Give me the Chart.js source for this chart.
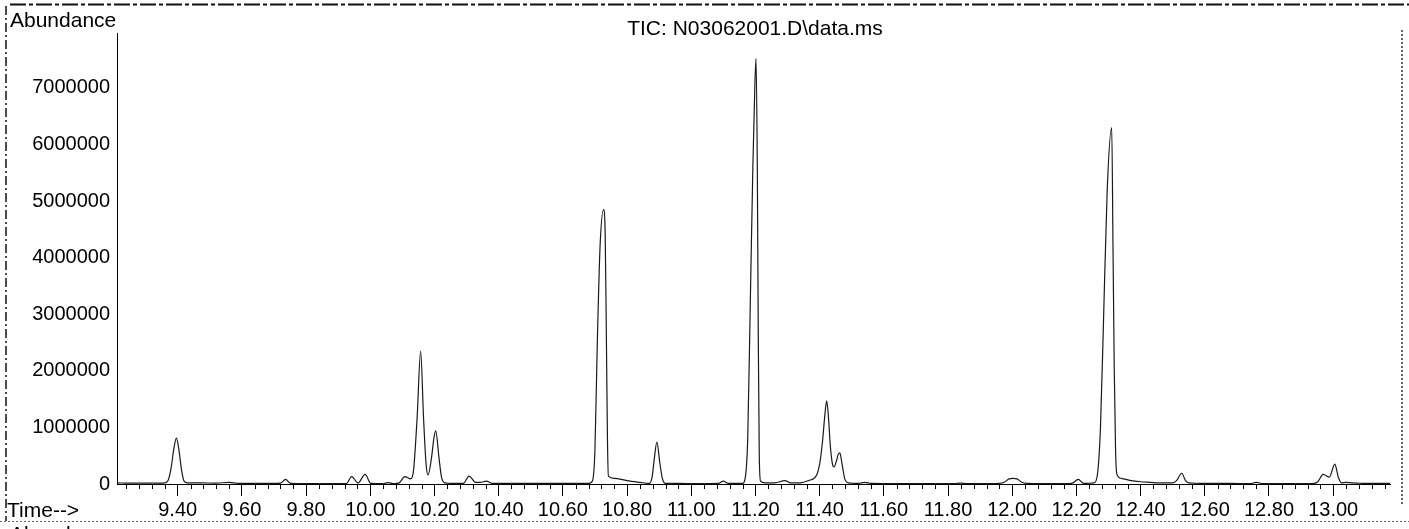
<!DOCTYPE html>
<html>
<head>
<meta charset="utf-8">
<script src="https://cdn.jsdelivr.net/npm/chart.js@4/dist/chart.umd.min.js"></script>
<style>
html,body{margin:0;padding:0;background:#fff;}
#wrap{position:relative;width:1409px;height:529px;}
</style>
</head>
<body>
<div id="wrap"><canvas id="c"></canvas></div>
<script>
// ---- data (retention time in min, abundance) ----
const times = [
  9.211, 9.25, 9.30, 9.34,
  9.360, 9.370, 9.380, 9.388, 9.396, 9.404, 9.412, 9.420, 9.430,
  9.47, 9.52, 9.56, 9.59, 9.65, 9.70,
  9.72, 9.736, 9.752, 9.80, 9.88,
  9.925, 9.942, 9.962, 9.984, 10.002,
  10.040, 10.055, 10.075,
  10.090, 10.108, 10.126, 10.135, 10.146, 10.157, 10.166, 10.174, 10.180,
  10.191, 10.198, 10.204, 10.214, 10.222, 10.232,
  10.260, 10.290, 10.308, 10.328, 10.342, 10.362, 10.380,
  10.45, 10.55, 10.65,
  10.680, 10.692, 10.700, 10.707, 10.716, 10.727, 10.732, 10.736, 10.739, 10.742,
  10.760, 10.800, 10.840, 10.870,
  10.878, 10.884, 10.893, 10.902, 10.910, 10.920,
  10.96, 11.02, 11.085, 11.100, 11.115, 11.150,
  11.160, 11.168, 11.176, 11.184, 11.192, 11.198, 11.202, 11.206, 11.209, 11.212, 11.216, 11.230,
  11.260, 11.292, 11.310, 11.340,
  11.365, 11.390, 11.400, 11.409, 11.416, 11.422, 11.428, 11.433, 11.440, 11.445,
  11.452, 11.458, 11.463, 11.470, 11.478, 11.490,
  11.520, 11.541, 11.560, 11.65, 11.75, 11.82, 11.838, 11.86, 11.93,
  11.960, 11.975, 11.990, 12.003, 12.015, 12.030, 12.045, 12.10, 12.16,
  12.185, 12.206, 12.222,
  12.255, 12.265, 12.275, 12.285, 12.296, 12.310, 12.314, 12.318, 12.322, 12.326,
  12.340, 12.370, 12.400, 12.430, 12.460,
  12.500, 12.512, 12.528, 12.540, 12.550, 12.60, 12.68,
  12.740, 12.761, 12.780, 12.85, 12.92,
  12.940, 12.952, 12.969, 12.988, 13.005, 13.016, 13.026, 13.040, 13.060, 13.100, 13.177
];
const abundance = [
  20000, 15000, 15000, 15000,
  20000, 60000, 300000, 620000, 810000, 600000, 250000, 50000, 20000,
  20000, 15000, 30000, 10000, 10000, 10000,
  15000, 80000, 10000, 5000, 5000,
  5000, 130000, 20000, 170000, 10000,
  5000, 25000, 5000,
  20000, 130000, 90000, 250000, 1170000, 2350000, 1170000, 350000, 160000,
  470000, 800000, 940000, 470000, 120000, 20000,
  10000, 10000, 140000, 30000, 30000, 50000, 10000,
  10000, 10000, 10000,
  10000, 50000, 600000, 2400000, 4200000, 4850000, 4400000, 2400000, 800000, 140000,
  100000, 60000, 30000, 10000,
  120000, 400000, 740000, 380000, 100000, 10000,
  10000, 5000, 10000, 50000, 10000, 10000,
  10000, 100000, 800000, 3200000, 5600000, 7000000, 7520000, 5500000, 2500000, 500000, 50000, 20000,
  20000, 60000, 20000, 20000,
  60000, 150000, 350000, 750000, 1200000, 1470000, 1150000, 700000, 350000, 300000,
  400000, 520000, 550000, 350000, 100000, 20000,
  10000, 30000, 10000, 5000, 5000, 5000, 15000, 5000, 5000,
  10000, 30000, 90000, 100000, 90000, 30000, 10000, 5000, 5000,
  10000, 80000, 10000,
  20000, 150000, 1000000, 3000000, 5200000, 6300000, 4200000, 2000000, 600000, 180000,
  100000, 60000, 40000, 30000, 20000,
  20000, 60000, 190000, 60000, 20000, 10000, 10000,
  5000, 30000, 5000, 5000, 5000,
  10000, 40000, 170000, 120000, 350000, 120000, 20000, 30000, 20000, 10000, 10000
];
const xMin = 9.211, xMax = 13.177, xStep = 0.04, xLabelStep = 0.2;
const yMax = 7970000;
const yTicks = [0, 1000000, 2000000, 3000000, 4000000, 5000000, 6000000, 7000000];
const titleText = 'TIC: N03062001.D\\data.ms';
const yTitle = 'Abundance';
const xTitle = 'Time-->';

const FONT = "'Liberation Sans', Arial, sans-serif";
function isMajor(v){ const r = v / xLabelStep; return Math.abs(r - Math.round(r)) < 1e-6 && v >= 9.39; }

const decor = {
  id: 'decor',
  afterDraw(chart){
    const ctx = chart.ctx;
    const xs = chart.scales.x;
    const bottom = chart.chartArea.bottom;
    ctx.save();
    // minor ticks
    ctx.strokeStyle = '#000'; ctx.lineWidth = 1;
    xs.ticks.forEach(t => {
      if (!isMajor(t.value)) {
        const px = Math.round(xs.getPixelForValue(t.value)) + 0.5;
        ctx.beginPath(); ctx.moveTo(px, bottom); ctx.lineTo(px, bottom + 5); ctx.stroke();
      }
    });
    // texts
    ctx.fillStyle = '#000';
    ctx.font = '21px ' + FONT;
    ctx.textAlign = 'left'; ctx.textBaseline = 'alphabetic';
    ctx.fillText(yTitle, 10, 27);
    ctx.fillText(xTitle, 7, 517);
    ctx.fillText(yTitle, 10, 541);
    ctx.textAlign = 'center';
    ctx.fillText(titleText, 755, 35);
    // frame (scanned page borders)
    ctx.strokeStyle = '#111';
    ctx.lineWidth = 2;
    ctx.setLineDash([16, 3, 4, 3]);
    ctx.beginPath(); ctx.moveTo(10, 4.5); ctx.lineTo(1409, 4.5); ctx.stroke();
    ctx.lineWidth = 1.5;
    ctx.setLineDash([9, 3, 2, 3]);
    ctx.beginPath(); ctx.moveTo(6, 6); ctx.lineTo(6, 521); ctx.stroke();
    ctx.strokeStyle = '#666'; ctx.lineWidth = 1;
    ctx.setLineDash([2, 2]);
    ctx.beginPath(); ctx.moveTo(0, 521.5); ctx.lineTo(1409, 521.5); ctx.stroke();
    ctx.strokeStyle = '#333'; ctx.lineWidth = 1.5;
    ctx.beginPath(); ctx.moveTo(1402, 30); ctx.lineTo(1402, 505); ctx.stroke();
    ctx.restore();
  }
};

new Chart(document.getElementById('c'), {
  type: 'line',
  data: {
    datasets: [{
      data: times.map((t, i) => ({x: t, y: abundance[i]})),
      borderColor: '#1a1a1a',
      borderWidth: 1.2,
      pointRadius: 0,
      fill: false,
      cubicInterpolationMode: 'monotone'
    }]
  },
  options: {
    responsive: true,
    maintainAspectRatio: false,
    animation: false,
    devicePixelRatio: 1,
    layout: { padding: { left: 0, right: 19, top: 33, bottom: 0 } },
    plugins: { legend: { display: false }, tooltip: { enabled: false }, title: { display: false } },
    scales: {
      x: {
        type: 'linear',
        min: xMin, max: xMax,
        border: { display: true, color: '#000', width: 1 },
        grid: {
          drawOnChartArea: false, drawTicks: true, tickLength: 12,
          tickColor: c => (c.tick && isMajor(c.tick.value)) ? '#000' : 'rgba(0,0,0,0)'
        },
        ticks: {
          stepSize: xStep, autoSkip: false, maxRotation: 0, minRotation: 0,
          includeBounds: false, padding: 2, color: '#000',
          font: { family: FONT, size: 20 },
          callback: v => isMajor(v) ? v.toFixed(2) : ''
        },
        afterFit: s => { s.height = 45; }
      },
      y: {
        min: 0, max: yMax,
        border: { display: true, color: '#000', width: 1 },
        grid: { drawOnChartArea: false, drawTicks: false },
        ticks: {
          includeBounds: false, padding: 7, color: '#000',
          font: { family: FONT, size: 20 },
          callback: v => String(v)
        },
        afterBuildTicks: s => { s.ticks = yTicks.map(v => ({ value: v })); },
        afterFit: s => { s.width = 117; }
      }
    }
  },
  plugins: [decor]
});
</script>
</body>
</html>
